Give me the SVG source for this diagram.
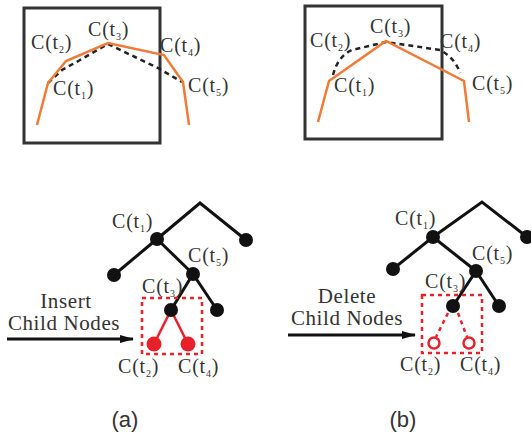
<svg xmlns="http://www.w3.org/2000/svg" width="531" height="434" viewBox="0 0 531 434">
<defs>
<style>
.box{fill:none;stroke:#333;stroke-width:3}
.orange{fill:none;stroke:#f07a36;stroke-width:2.5;stroke-linejoin:miter}
.dash{fill:none;stroke:#222;stroke-width:2.5;stroke-dasharray:5 4}
.edge{stroke:#111;stroke-width:3;fill:none}
.redge{stroke:#e8202a;stroke-width:2.5;fill:none}
.rdash{stroke:#e8202a;stroke-width:2.5;fill:none;stroke-dasharray:4 4}
.node{fill:#111}
.rnode{fill:#e8202a}
.hnode{fill:none;stroke:#e8202a;stroke-width:2.5}
.lbl{font-family:"Liberation Serif","Times New Roman",serif;font-size:20px;fill:#333;letter-spacing:0.8px}
.sub{font-size:10px}
.cap{font-family:"Liberation Serif","Times New Roman",serif;font-size:21px;fill:#333;letter-spacing:0.6px}
.pl{font-family:"Liberation Sans",Arial,sans-serif;font-size:22px;fill:#333}
</style>
<marker id="ah" markerWidth="14" markerHeight="8" refX="13" refY="4" orient="auto" markerUnits="userSpaceOnUse">
<path d="M0,0 L14,4 L0,8 z" fill="#111"/>
</marker>
</defs>

<!-- Panel (a) top -->
<g id="panelA-top">
<rect class="box" x="24" y="8" width="136" height="135"/>
<polyline class="dash" points="48,83 62,70 80,60 108,44 135,57 158,68 182,82"/>
<polyline class="orange" points="37,125 48,83 66,61 108,43 164,55 183,82 189,125"/>
<text class="lbl" x="31" y="49">C(t<tspan class="sub" dy="4">2</tspan><tspan dy="-4">)</tspan></text>
<text class="lbl" x="88" y="36">C(t<tspan class="sub" dy="4">3</tspan><tspan dy="-4">)</tspan></text>
<text class="lbl" x="160" y="52">C(t<tspan class="sub" dy="4">4</tspan><tspan dy="-4">)</tspan></text>
<text class="lbl" x="53" y="95">C(t<tspan class="sub" dy="4">1</tspan><tspan dy="-4">)</tspan></text>
<text class="lbl" x="188" y="92">C(t<tspan class="sub" dy="4">5</tspan><tspan dy="-4">)</tspan></text>
</g>

<!-- Panel (b) top -->
<g id="panelB-top">
<rect class="box" x="305" y="6" width="137" height="133"/>
<path class="dash" d="M333,75 Q338,56 352,50 L386,42 L440,50 Q455,58 460,73"/>
<polyline class="orange" points="318,122 329,81 386,41 464,81 469,122"/>
<text class="lbl" x="310" y="47">C(t<tspan class="sub" dy="4">2</tspan><tspan dy="-4">)</tspan></text>
<text class="lbl" x="370" y="33">C(t<tspan class="sub" dy="4">3</tspan><tspan dy="-4">)</tspan></text>
<text class="lbl" x="440" y="48">C(t<tspan class="sub" dy="4">4</tspan><tspan dy="-4">)</tspan></text>
<text class="lbl" x="334" y="92">C(t<tspan class="sub" dy="4">1</tspan><tspan dy="-4">)</tspan></text>
<text class="lbl" x="472" y="90">C(t<tspan class="sub" dy="4">5</tspan><tspan dy="-4">)</tspan></text>
</g>

<!-- Connectors -->
<g id="connectors">
<polyline class="edge" points="157,239 200,203 246,240"/>
<line class="edge" x1="157" y1="239" x2="114" y2="275"/>
<line class="edge" x1="157" y1="239" x2="193" y2="274"/>
<line class="edge" x1="193" y1="274" x2="171" y2="310"/>
<line class="edge" x1="193" y1="274" x2="217" y2="310"/>
<line class="redge" x1="171" y1="310" x2="154" y2="344"/>
<line class="redge" x1="171" y1="310" x2="188" y2="344"/>
<line class="edge" x1="7" y1="339" x2="133" y2="339" stroke-width="3.5" marker-end="url(#ah)"/>

<polyline class="edge" points="433,237 482,202 527,237"/>
<line class="edge" x1="433" y1="237" x2="393" y2="269"/>
<line class="edge" x1="433" y1="237" x2="476" y2="271"/>
<line class="edge" x1="476" y1="271" x2="453" y2="306"/>
<line class="edge" x1="476" y1="271" x2="499" y2="306"/>
<line class="rdash" x1="448" y1="313" x2="436" y2="337"/>
<line class="rdash" x1="458" y1="313" x2="467" y2="337"/>
<line class="edge" x1="288" y1="335" x2="415" y2="335" stroke-width="3.5" marker-end="url(#ah)"/>
</g>

<!-- Tree (a) -->
<g id="treeA">
<rect class="rdash" x="142" y="298" width="60" height="56"/>
<g id="a-n1"><circle class="node" cx="157" cy="239" r="7"/><text class="lbl" x="112" y="228">C(t<tspan class="sub" dy="4">1</tspan><tspan dy="-4">)</tspan></text></g>
<g id="a-nr"><circle class="node" cx="246" cy="240" r="7"/></g>
<g id="a-nl"><circle class="node" cx="114" cy="275" r="7"/></g>
<g id="a-n5"><circle class="node" cx="193" cy="274" r="7"/><text class="lbl" x="188" y="262">C(t<tspan class="sub" dy="4">5</tspan><tspan dy="-4">)</tspan></text></g>
<g id="a-n3"><circle class="node" cx="171" cy="310" r="7"/><text class="lbl" x="142" y="293">C(t<tspan class="sub" dy="4">3</tspan><tspan dy="-4">)</tspan></text></g>
<g id="a-n6"><circle class="node" cx="217" cy="310" r="7"/></g>
<g id="a-n2"><circle class="rnode" cx="154" cy="344" r="7.5"/><text class="lbl" x="118" y="373">C(t<tspan class="sub" dy="4">2</tspan><tspan dy="-4">)</tspan></text></g>
<g id="a-n4"><circle class="rnode" cx="188" cy="344" r="7.5"/><text class="lbl" x="178" y="373">C(t<tspan class="sub" dy="4">4</tspan><tspan dy="-4">)</tspan></text></g>
<g id="a-caption">
<text class="cap" x="66" y="308" text-anchor="middle">Insert</text>
<text class="cap" x="64" y="330" text-anchor="middle">Child Nodes</text>
</g>
</g>

<!-- Tree (b) -->
<g id="treeB">
<rect class="rdash" x="422" y="295" width="60" height="58"/>
<g id="b-n1"><circle class="node" cx="433" cy="237" r="7"/><text class="lbl" x="395" y="225">C(t<tspan class="sub" dy="4">1</tspan><tspan dy="-4">)</tspan></text></g>
<g id="b-nr"><circle class="node" cx="527" cy="237" r="7"/></g>
<g id="b-nl"><circle class="node" cx="393" cy="269" r="7"/></g>
<g id="b-n5"><circle class="node" cx="476" cy="271" r="7"/><text class="lbl" x="472" y="260">C(t<tspan class="sub" dy="4">5</tspan><tspan dy="-4">)</tspan></text></g>
<g id="b-n3"><circle class="node" cx="453" cy="306" r="7"/><text class="lbl" x="425" y="288">C(t<tspan class="sub" dy="4">3</tspan><tspan dy="-4">)</tspan></text></g>
<g id="b-n6"><circle class="node" cx="499" cy="306" r="7"/></g>
<g id="b-n2"><circle class="hnode" cx="434" cy="343" r="5.5"/><text class="lbl" x="400" y="371">C(t<tspan class="sub" dy="4">2</tspan><tspan dy="-4">)</tspan></text></g>
<g id="b-n4"><circle class="hnode" cx="469" cy="343" r="5.5"/><text class="lbl" x="460" y="371">C(t<tspan class="sub" dy="4">4</tspan><tspan dy="-4">)</tspan></text></g>
<g id="b-caption">
<text class="cap" x="347" y="303" text-anchor="middle">Delete</text>
<text class="cap" x="347" y="325" text-anchor="middle">Child Nodes</text>
</g>
</g>

<text class="pl" x="125" y="427" text-anchor="middle">(a)</text>
<text class="pl" x="403" y="427" text-anchor="middle">(b)</text>
</svg>
